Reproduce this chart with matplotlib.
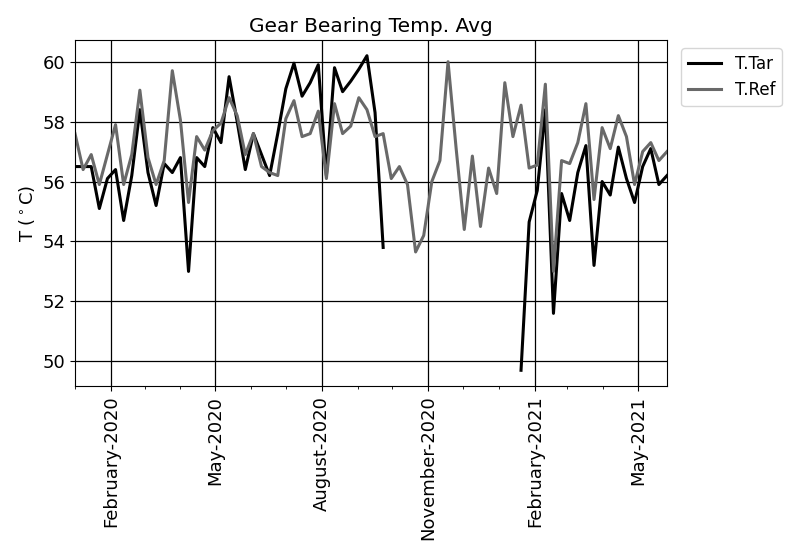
import numpy as np
import pandas as pd
import matplotlib.pyplot as plt
import matplotlib.dates as mdates

# weekly averages, Jan 2020 - May 2021
dates = pd.date_range("2020-01-01", periods=74, freq="7D")

t_tar = [56.5, 56.5, 56.5, 55.1, 56.1, 56.4, 54.7, 56.2, 58.4, 56.3,
         55.2, 56.6, 56.3, 56.8, 53.0, 56.8, 56.5, 57.8, 57.3, 59.5,
         58.0, 56.4, 57.6, 56.9, 56.2, 57.6, 59.1, 59.95, 58.85, 59.3,
         59.9, 56.2, 59.8, 59.0, 59.35, 59.75, 60.2, 58.3, 53.8,
         np.nan, np.nan, np.nan, np.nan, np.nan, np.nan, np.nan, np.nan,
         np.nan, np.nan, np.nan, np.nan, np.nan, np.nan, np.nan, np.nan,
         49.7, 54.65, 55.7, 58.4, 51.6, 55.6, 54.7, 56.3, 57.2, 53.2,
         56.0, 55.55, 57.15, 56.1, 55.3, 56.5, 57.1, 55.9, 56.2]

t_ref = [57.6, 56.4, 56.9, 55.9, 56.9, 57.9, 55.9, 56.9, 59.05, 56.8,
         55.9, 56.7, 59.7, 58.05, 55.3, 57.5, 57.05, 57.7, 57.95, 58.8,
         58.2, 56.9, 57.6, 56.5, 56.3, 56.2, 58.1, 58.7, 57.5, 57.6,
         58.35, 56.1, 58.6, 57.6, 57.85, 58.8, 58.4, 57.5, 57.6, 56.1,
         56.5, 55.9, 53.65, 54.2, 56.0, 56.7, 60.0, 57.1, 54.4, 56.85,
         54.5, 56.45, 55.6, 59.3, 57.5, 58.55, 56.45, 56.55, 59.25, 53.0,
         56.7, 56.6, 57.3, 58.6, 55.4, 57.8, 57.1, 58.2, 57.5, 55.9,
         57.0, 57.3, 56.7, 57.0]

fig = plt.figure(figsize=(7.87, 5.42), dpi=100)
ax = fig.add_axes([75 / 787, 1 - 386 / 542, 592 / 787, 346 / 542])

ax.plot(dates, t_tar, color="black", lw=2.2, label="T.Tar")
ax.plot(dates, t_ref, color="dimgray", lw=2.2, label="T.Ref")

ax.set_xlim(dates[0], dates[-1])
ax.xaxis.set_major_locator(mdates.MonthLocator(bymonth=[2, 5, 8, 11]))
ax.xaxis.set_major_formatter(mdates.DateFormatter("%B-%Y"))
ax.xaxis.set_minor_locator(mdates.MonthLocator())
ax.tick_params(labelsize=13)
plt.setp(ax.get_xticklabels(), rotation=90)

ax.grid(True, color="black", lw=0.9)
ax.set_title("Gear Bearing Temp. Avg", fontsize=14.5)
ax.set_ylabel(r"T ($^\circ$C)", fontsize=13)
ax.legend(loc="upper left", bbox_to_anchor=(1.01, 1.0), fontsize=12)

fig.savefig("out.png", dpi=100)
